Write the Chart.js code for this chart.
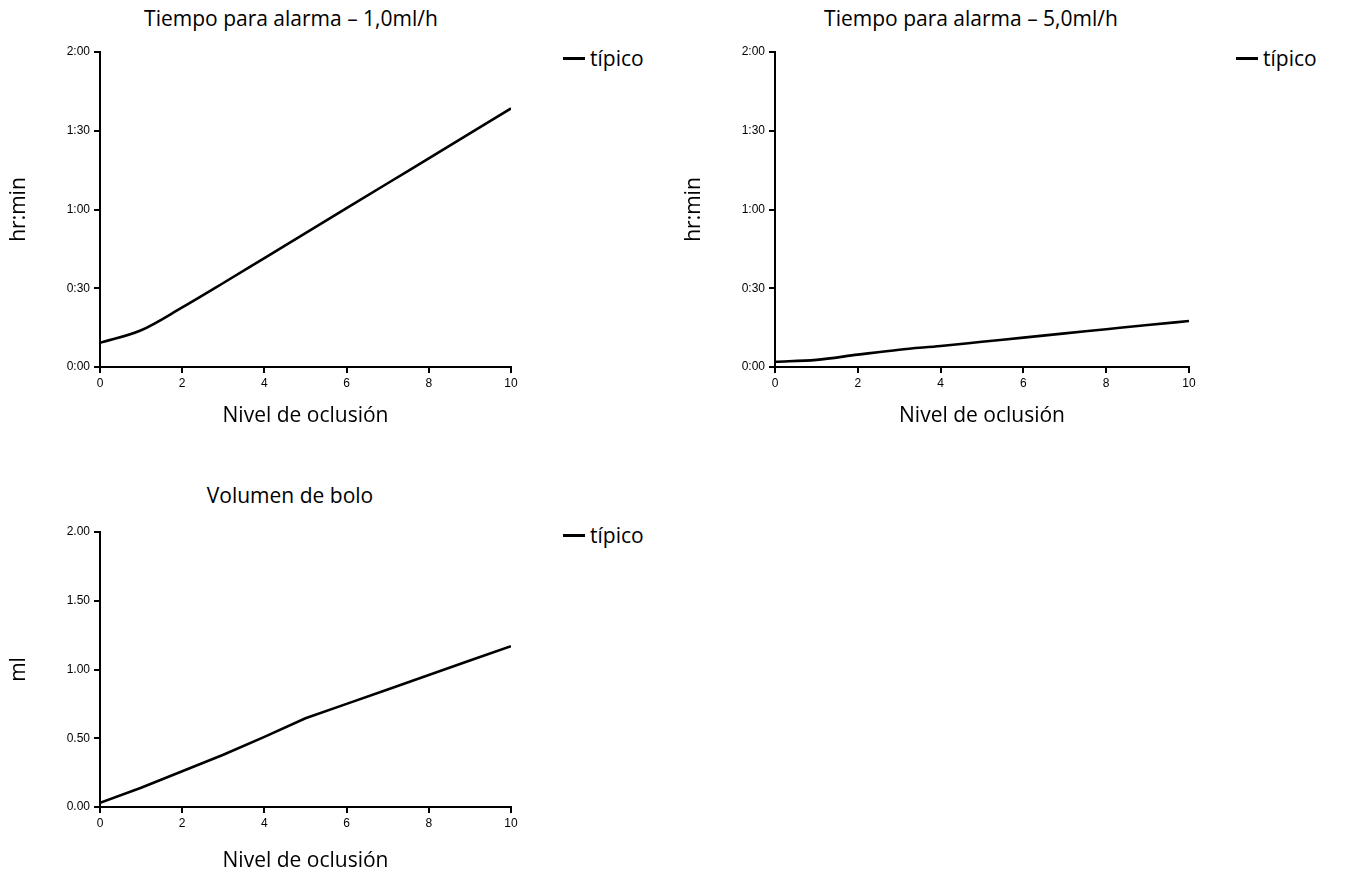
<!DOCTYPE html>
<html>
<head>
<meta charset="utf-8">
<script src="https://cdn.jsdelivr.net/npm/chart.js@4.4.1/dist/chart.umd.min.js"></script>
<style>
  html, body { margin: 0; padding: 0; background: #fff; }
  body { width: 1346px; height: 874px; position: relative; overflow: hidden; font-family: 'Open Sans', sans-serif; color: #000; }
  .box { position: absolute; }
  .title { position: absolute; font-size: 21px; white-space: nowrap; transform: translate(-50%, -50%); }
  .legend { position: absolute; font-size: 21px; white-space: nowrap; transform: translateY(-50%); display: flex; align-items: center; }
  .legend span.swatch { display: inline-block; width: 22px; height: 3px; background: #000; margin-right: 5px; }
</style>
</head>
<body>

<div class="title" style="left:291px; top:18px;">Tiempo para alarma – 1,0ml/h</div>
<div class="legend" style="left:563px; top:58px;"><span class="swatch"></span>típico</div>
<div class="box" style="left:0px; top:0px; width:540px; height:440px;"><canvas id="alarm1"></canvas></div>

<div class="title" style="left:971px; top:18px;">Tiempo para alarma – 5,0ml/h</div>
<div class="legend" style="left:1236px; top:58px;"><span class="swatch"></span>típico</div>
<div class="box" style="left:675px; top:0px; width:545px; height:440px;"><canvas id="alarm5"></canvas></div>

<div class="title" style="left:290px; top:495px;">Volumen de bolo</div>
<div class="legend" style="left:563px; top:535px;"><span class="swatch"></span>típico</div>
<div class="box" style="left:0px; top:474px; width:540px; height:400px;"><canvas id="bolus"></canvas></div>

<script>
// occlusion level (x) shared by all three panels
const occlusionLevels = [0, 1, 2, 3, 4, 5, 6, 7, 8, 9, 10];

// time to alarm, in minutes
const alarmTime1mlh = [9.2, 14, 22.7, 32, 41.5, 51, 60.5, 70, 79.5, 89, 98.5];
const alarmTime5mlh = [2.0, 2.7, 4.7, 6.6, 8.0, 9.6, 11.2, 12.8, 14.4, 16.0, 17.5];

// bolus volume, ml
const bolusVolume = [0.03, 0.14, 0.26, 0.38, 0.51, 0.645, 0.75, 0.855, 0.96, 1.065, 1.17];

const seriesLabel = 'típico';
const xTitle = 'Nivel de oclusión';

const tickFont = { family: "'Liberation Sans', Arial, sans-serif", size: 12 };
const titleFont = { family: "'Open Sans', sans-serif", size: 21 };

// minutes -> "h:mm"
function fmtHrMin(v) {
  const h = Math.floor(v / 60);
  const m = String(Math.round(v % 60)).padStart(2, '0');
  return `${h}:${m}`;
}

function makePanel(id, values, cfg) {
  const ctx = document.getElementById(id).getContext('2d');
  const points = occlusionLevels.map((x, i) => ({ x, y: values[i] }));
  return new Chart(ctx, {
    type: 'line',
    data: {
      datasets: [{
        label: seriesLabel,
        data: points,
        borderColor: '#000',
        backgroundColor: '#000',
        borderWidth: 2.6,
        pointRadius: 0,
        fill: false,
        cubicInterpolationMode: cfg.smooth ? 'monotone' : 'default',
        tension: 0
      }]
    },
    options: {
      responsive: true,
      maintainAspectRatio: false,
      animation: false,
      layout: { padding: { top: cfg.padTop, right: cfg.padRight, bottom: 0, left: 0 } },
      plugins: { legend: { display: false }, tooltip: { enabled: false }, title: { display: false } },
      scales: {
        x: {
          type: 'linear',
          min: 0,
          max: 10,
          afterFit: s => { s.height = cfg.xHeight; },
          ticks: { stepSize: 2, color: '#000', font: tickFont, padding: 3, maxRotation: 0 },
          grid: { drawOnChartArea: false, drawTicks: true, tickLength: 6, color: '#000', lineWidth: 2 },
          border: { display: true, color: '#000', width: 2 },
          title: { display: true, text: xTitle, color: '#000', font: titleFont, padding: { top: 0, bottom: cfg.xTitlePad } }
        },
        y: {
          min: 0,
          max: cfg.yMax,
          afterFit: s => { s.width = 100; },
          ticks: { stepSize: cfg.yStep, color: '#000', font: tickFont, padding: 4, callback: cfg.fmt },
          grid: { drawOnChartArea: false, drawTicks: true, tickLength: 6, color: '#000', lineWidth: 2 },
          border: { display: true, color: '#000', width: 2 },
          title: { display: true, text: cfg.yTitle, color: '#000', font: titleFont, padding: { top: 6, bottom: 0 } }
        }
      }
    }
  });
}

makePanel('alarm1', alarmTime1mlh, {
  padTop: 52, padRight: 29, xHeight: 73, xTitlePad: 11,
  yMax: 120, yStep: 30, fmt: fmtHrMin, yTitle: 'hr:min', smooth: true
});

makePanel('alarm5', alarmTime5mlh, {
  padTop: 52, padRight: 31, xHeight: 73, xTitlePad: 11,
  yMax: 120, yStep: 30, fmt: fmtHrMin, yTitle: 'hr:min', smooth: true
});

makePanel('bolus', bolusVolume, {
  padTop: 58, padRight: 29, xHeight: 67, xTitlePad: 0,
  yMax: 2, yStep: 0.5, fmt: v => v.toFixed(2), yTitle: 'ml', smooth: false
});
</script>
</body>
</html>
